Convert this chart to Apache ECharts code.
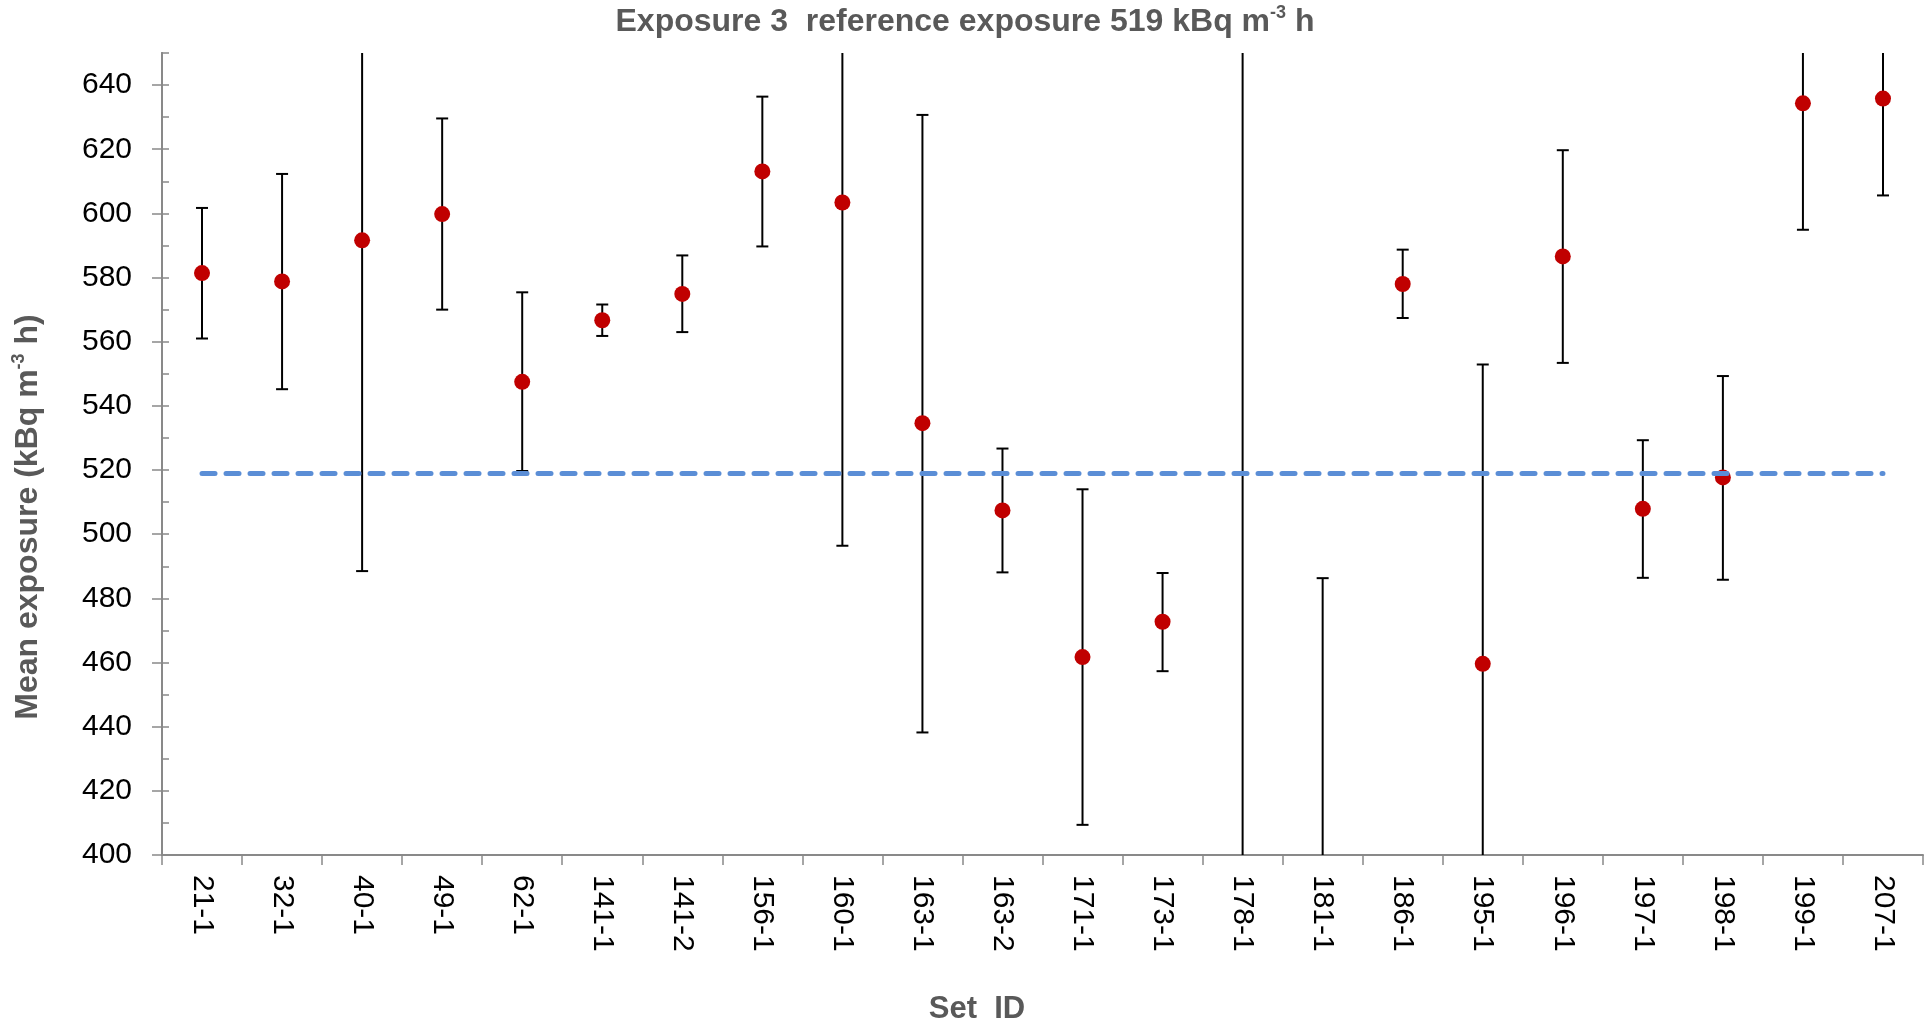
<!DOCTYPE html>
<html>
<head>
<meta charset="utf-8">
<script src="https://cdn.jsdelivr.net/npm/echarts@6/dist/echarts.min.js"></script>
<style>
html,body{margin:0;padding:0;background:#fff;}
#chart{width:1930px;height:1029px;}
</style>
</head>
<body>
<div id="chart"></div>
<script>
// ---- data ----
const categories = ['21-1','32-1','40-1','49-1','62-1','141-1','141-2','156-1','160-1','163-1','163-2','171-1','173-1','178-1','181-1','186-1','195-1','196-1','197-1','198-1','199-1','207-1'];
const means = [581.4, 578.8, 591.6, 599.8, 547.5, 566.7, 574.9, 613.1, 603.4, 534.6, 507.4, 461.7, 472.7, 385.0, 380.0, 578.0, 459.6, 586.6, 507.9, 517.7, 634.3, 635.8];
const lows  = [561.0, 545.2, 488.5, 570.0, 519.7, 561.8, 563.0, 589.7, 496.4, 438.2, 488.1, 409.4, 457.3, 100.0, 273.7, 567.4, 366.0, 553.4, 486.4, 485.8, 594.9, 605.6];
const highs = [601.7, 612.3, 694.7, 629.6, 575.4, 571.6, 586.9, 636.4, 710.4, 630.7, 526.7, 514.0, 487.9, 670.0, 486.3, 588.7, 552.9, 619.7, 529.3, 549.3, 673.7, 666.0];
const refValue = 519;
const yTickValues = [400, 420, 440, 460, 480, 500, 520, 540, 560, 580, 600, 620, 640];
const yMin = 400, yMax = 650;

const FONT = "'Liberation Sans', Arial, sans-serif";
const AXIS_COLOR = '#898989';
const NAME_COLOR = '#595959';

const chart = echarts.init(document.getElementById('chart'), null, {renderer: 'canvas'});

const errData = categories.map((c, i) => [i, lows[i], highs[i]]);

function renderErr(params, api) {
  const cs = params.coordSys;
  const top = cs.y, bottom = cs.y + cs.height;
  const x = api.coord([api.value(0), yMin])[0];
  let yl = api.coord([api.value(0), api.value(1)])[1];
  let yh = api.coord([api.value(0), api.value(2)])[1];
  const style = {stroke: '#000', lineWidth: 2};
  const half = 6;
  const children = [];
  const y1 = Math.min(Math.max(yh, top), bottom);
  const y2 = Math.min(Math.max(yl, top), bottom);
  children.push({type: 'line', shape: {x1: x, y1: y1, x2: x, y2: y2}, style: style});
  if (yh >= top && yh <= bottom) children.push({type: 'line', shape: {x1: x - half, y1: yh, x2: x + half, y2: yh}, style: style});
  if (yl >= top && yl <= bottom) children.push({type: 'line', shape: {x1: x - half, y1: yl, x2: x + half, y2: yl}, style: style});
  return {type: 'group', children: children};
}

const option = {
  backgroundColor: '#fff',
  animation: false,
  grid: {left: 162, right: 7, top: 53, bottom: 174, containLabel: false},
  xAxis: {
    type: 'category',
    data: categories,
    boundaryGap: true,
    axisLine: {onZero: false, lineStyle: {color: AXIS_COLOR, width: 2}},
    axisTick: {show: true, length: 10, interval: 0, lineStyle: {color: AXIS_COLOR, width: 1.5}},
    axisLabel: {interval: 0, rotate: -90, margin: 20, fontSize: 30, color: '#000', fontFamily: FONT},
    splitLine: {show: false}
  },
  yAxis: [
    {
      type: 'value', min: yMin, max: yMax, interval: 20,
      axisLine: {show: true, onZero: false, lineStyle: {color: AXIS_COLOR, width: 2}},
      axisTick: {show: true, length: 10, customValues: yTickValues, lineStyle: {color: AXIS_COLOR, width: 1.5}},
      axisLabel: {fontSize: 30, color: '#000', margin: 30, fontFamily: FONT, customValues: yTickValues},
      splitLine: {show: false}
    },
    {
      type: 'value', min: yMin, max: yMax, interval: 10, position: 'left', offset: 0,
      axisLine: {show: true, onZero: false, lineStyle: {color: AXIS_COLOR, width: 2}},
      axisTick: {show: true, inside: true, length: 7, lineStyle: {color: AXIS_COLOR, width: 1.5}},
      axisLabel: {show: false},
      splitLine: {show: false}
    }
  ],
  series: [
    {
      type: 'line', data: [], z: 1, silent: true,
      markLine: {
        silent: true, symbol: ['none', 'none'], label: {show: false},
        lineStyle: {color: '#5B8ED6', width: 5, type: [13, 11], cap: 'round', opacity: 1},
        emphasis: {disabled: true},
        data: [[{coord: [0, refValue]}, {coord: [categories.length - 1, refValue]}]]
      }
    },
    {
      type: 'custom', z: 2, silent: true,
      data: errData,
      encode: {x: 0, y: [1, 2]},
      renderItem: renderErr
    },
    {
      type: 'scatter', z: 3, silent: true,
      data: means,
      symbol: 'circle', symbolSize: 16,
      itemStyle: {color: '#C00000', opacity: 1},
      emphasis: {disabled: true},
      clip: true
    }
  ],
  graphic: [
    {
      type: 'text', x: 965, y: 22, silent: true,
      style: {
        text: '{a|Exposure 3  reference exposure 519 kBq m}{s|-3}{a| h}',
        textAlign: 'center', textVerticalAlign: 'middle',
        rich: {
          a: {fontSize: 32, fontWeight: 'bold', fontFamily: FONT, fill: NAME_COLOR, lineHeight: 36},
          s: {fontSize: 18, fontWeight: 'bold', fontFamily: FONT, fill: NAME_COLOR, verticalAlign: 'top', lineHeight: 24}
        }
      }
    },
    {
      type: 'text', x: 28, y: 517, rotation: Math.PI / 2, silent: true,
      style: {
        text: '{a|Mean exposure (kBq m}{s|-3}{a| h)}',
        textAlign: 'center', textVerticalAlign: 'middle',
        rich: {
          a: {fontSize: 32, fontWeight: 'bold', fontFamily: FONT, fill: NAME_COLOR, lineHeight: 36},
          s: {fontSize: 18, fontWeight: 'bold', fontFamily: FONT, fill: NAME_COLOR, verticalAlign: 'top', lineHeight: 24}
        }
      }
    },
    {
      type: 'text', x: 977, y: 1009, silent: true,
      style: {
        text: 'Set  ID',
        textAlign: 'center', textVerticalAlign: 'middle',
        font: "bold 31px 'Liberation Sans', Arial, sans-serif",
        fill: NAME_COLOR
      }
    }
  ]
};

chart.setOption(option);
</script>
</body>
</html>
